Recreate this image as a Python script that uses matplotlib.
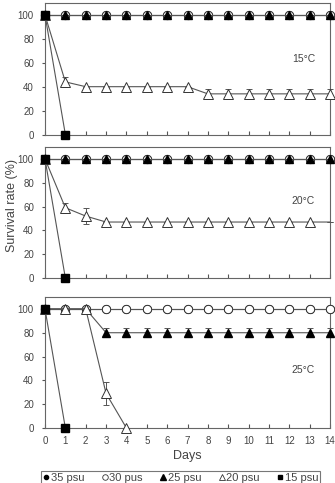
import matplotlib
matplotlib.use('Agg')
import matplotlib.pyplot as plt
from matplotlib.lines import Line2D
import numpy as np

plt.rcParams['font.family'] = ['Liberation Sans', 'DejaVu Sans']

days = list(range(15))
temps = ["15°C", "20°C", "25°C"]
series_names = ["35 psu", "30 pus", "25 psu", "20 psu", "15 psu"]

# survival (%) per temperature, per salinity
s15_35 = [100] * 15
s15_30 = [100] * 15
s15_25 = [100] * 15
s15_20 = [100, 44, 40, 40, 40, 40, 40, 40, 34, 34, 34, 34, 34, 34, 34]
s15_20_err = [0, 4, 0, 0, 0, 0, 0, 0, 4, 4, 4, 4, 4, 4, 4]
s15_15 = [100, 0]

s20_35 = [100] * 15
s20_30 = [100] * 15
s20_25 = [100] * 15
s20_20 = [100, 59, 52, 47, 47, 47, 47, 47, 47, 47, 47, 47, 47, 47, 47]
s20_20_err = [0, 4, 7, 0, 0, 0, 0, 0, 0, 0, 0, 0, 0, 0, 0]
s20_15 = [100, 0]

s25_35 = [100] * 15
s25_30 = [100] * 15
s25_25 = [100, 100, 100, 80, 80, 80, 80, 80, 80, 80, 80, 80, 80, 80, 80]
s25_25_err = [0, 0, 0, 4, 4, 4, 4, 4, 4, 4, 4, 4, 4, 4, 4]
s25_20 = [100, 100, 100, 29, 0]
s25_20_err = [0, 0, 0, 10, 0]
s25_15 = [100, 0]

panels = [
    (s15_35, s15_30, s15_25, None, s15_20, s15_20_err, s15_15, 63, None),
    (s20_35, s20_30, s20_25, None, s20_20, s20_20_err, s20_15, 65, list(range(14))),
    (s25_35, s25_30, s25_25, s25_25_err, s25_20, s25_20_err, s25_15, 49, None),
]

W, H = 335, 483
fig = plt.figure(figsize=(W / 100, H / 100), dpi=100)

lc = '#555555'
tc = '#444444'
tops = [3, 147, 297]
bottoms = [134.5, 278, 428]
left_px, right_px = 45, 330

for i, (a35, a30, a25, e25, a20, e20, a15, ty, mev) in enumerate(panels):
    b = bottoms[i]
    t = tops[i]
    ax = fig.add_axes([left_px / W, 1 - b / H, (right_px - left_px) / W, (b - t) / H])
    ms = 5.5
    ax.plot(days[:len(a35)], a35, color=lc, lw=0.8, marker='o', ms=ms, mfc='black', mec='black', zorder=3, clip_on=False)
    ax.plot(days[:len(a30)], a30, color=lc, lw=0.8, marker='o', ms=ms + 0.5, mfc='white', mec='#333333', mew=0.7, zorder=4, clip_on=False)
    if e25 is not None:
        ax.errorbar(days[:len(a25)], a25, yerr=e25, color=lc, lw=0.8, ecolor=lc, elinewidth=0.7, capsize=2, capthick=0.7,
                    marker='^', ms=ms, mfc='black', mec='black', zorder=5, clip_on=False)
    else:
        ax.plot(days[:len(a25)], a25, color=lc, lw=0.8, marker='^', ms=ms, mfc='black', mec='black', zorder=5, clip_on=False)
    ax.errorbar(days[:len(a20)], a20, yerr=e20, color=lc, lw=0.8, ecolor=lc, elinewidth=0.7, capsize=2, capthick=0.7,
                marker='^', ms=ms + 1, mfc='white', mec='#333333', mew=0.7, zorder=6, markevery=mev, clip_on=False)
    ax.plot(days[:len(a15)], a15, color=lc, lw=0.8, marker='s', ms=ms, mfc='black', mec='black', zorder=7, clip_on=False)

    ax.set_xlim(0, 14)
    ax.set_ylim(0, 110)
    ax.set_yticks(range(0, 101, 20))
    ax.set_xticks(days)
    ax.tick_params(axis='x', direction='in', length=3, color=lc, labelsize=7, labelcolor=tc, pad=6)
    ax.tick_params(axis='y', direction='out', length=2, color=lc, labelsize=7, labelcolor=tc, pad=6)
    if i < 2:
        ax.set_xticklabels([])
    for sp in ax.spines.values():
        sp.set_color('#666666')
        sp.set_linewidth(0.8)
    ax.text(12.7, ty, temps[i], fontsize=7.5, color=tc, ha='center', va='center')
    if i == 2:
        ax.set_xlabel("Days", fontsize=9, color=tc, labelpad=3)

fig.text(12 / W, 1 - 205 / H, "Survival rate (%)", rotation=90, fontsize=9, color=tc, ha='center', va='center')

handles = [
    Line2D([], [], ls='none', marker='o', ms=3, mfc='black', mec='black'),
    Line2D([], [], ls='none', marker='o', ms=4, mfc='white', mec='#333333', mew=0.6),
    Line2D([], [], ls='none', marker='^', ms=4, mfc='black', mec='black'),
    Line2D([], [], ls='none', marker='^', ms=4, mfc='white', mec='#333333', mew=0.6),
    Line2D([], [], ls='none', marker='s', ms=3.5, mfc='black', mec='black'),
]
leg = fig.legend(handles, series_names, loc='upper left', bbox_to_anchor=(35 / W, 1 - 465 / H),
                 ncol=5, fontsize=8, frameon=True, fancybox=False, handlelength=0.6, handletextpad=0.1,
                 columnspacing=1.55, borderpad=0.2, labelcolor=tc)
leg.get_frame().set_edgecolor('#555555')
leg.get_frame().set_linewidth(0.8)

fig.savefig('out.png', dpi=100)
